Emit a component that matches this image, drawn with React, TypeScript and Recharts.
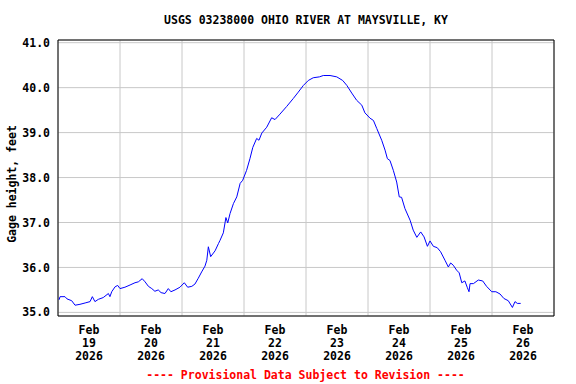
import {
  LineChart,
  Line,
  XAxis,
  YAxis,
  CartesianGrid,
  ReferenceArea,
} from 'recharts';

// Hours since Feb 19 00:00 and gage height (feet)
const hours = [
  0.4, 0.8, 2.7, 3.5, 5.3, 6.6, 8.5, 10.5, 12.4, 13.3, 14.3, 15.6, 17.5, 19.5, 20.1, 20.8,
  22.1, 23.1, 24.0, 25.9, 27.9, 29.8, 31.1, 32.6, 33.7, 35.0, 36.3, 37.5, 38.8, 39.9, 41.4,
  42.7, 43.7, 45.3, 47.2, 48.9, 50.2, 51.8, 53.0, 54.3, 55.6, 56.9, 57.6, 58.2, 59.1, 60.8,
  62.1, 62.7, 64.0, 65.0, 65.7, 66.6, 67.9, 69.2, 70.5, 71.5, 73.0, 74.3, 75.4, 76.9, 77.8,
  78.9, 80.8, 82.7, 84.0, 85.9, 88.5, 91.1, 93.0, 95.0, 96.9, 98.8, 101.2, 102.7, 105.3,
  107.9, 110.2, 111.8, 113.7, 115.6, 117.6, 118.8, 120.8, 122.1, 123.4, 125.3, 126.6, 127.5,
  128.5, 129.8, 131.1, 132.1, 133.0, 134.3, 136.3, 137.5, 138.9, 140.4, 141.7, 143.0, 144.0,
  145.3, 146.8, 148.1, 149.8, 151.1, 152.0, 153.0, 154.3, 155.3, 156.3, 157.5, 158.4, 159.1,
  159.5, 160.8, 162.7, 164.4, 165.9, 167.9, 169.5, 171.1, 172.6, 174.3, 175.9, 176.9, 177.8,
  179.1,
];

const gageHeight = [
  35.28, 35.35, 35.35, 35.3, 35.26, 35.16, 35.18, 35.21, 35.24, 35.35, 35.24, 35.29, 35.33,
  35.42, 35.35, 35.46, 35.57, 35.6, 35.53, 35.56, 35.61, 35.66, 35.68, 35.75, 35.68, 35.58,
  35.53, 35.47, 35.5, 35.44, 35.42, 35.53, 35.46, 35.5, 35.56, 35.66, 35.56, 35.58, 35.63,
  35.76, 35.9, 36.03, 36.16, 36.46, 36.24, 36.37, 36.53, 36.6, 36.77, 37.11, 36.99, 37.2,
  37.42, 37.57, 37.87, 37.94, 38.16, 38.42, 38.67, 38.87, 38.83, 38.99, 39.12, 39.33, 39.29,
  39.41, 39.58, 39.76, 39.9, 40.05, 40.16, 40.22, 40.24, 40.27, 40.27, 40.24, 40.16, 40.05,
  39.88, 39.72, 39.61, 39.44, 39.32, 39.27, 39.09, 38.83, 38.61, 38.42, 38.38, 38.16, 37.9,
  37.57, 37.56, 37.31, 37.05, 36.83, 36.67, 36.79, 36.68, 36.47, 36.59, 36.47, 36.44, 36.35,
  36.16, 36.01, 36.1, 36.05, 35.94, 35.88, 35.66, 35.7, 35.56, 35.46, 35.64, 35.64, 35.72,
  35.7, 35.58, 35.46, 35.46, 35.41, 35.31, 35.26, 35.11, 35.24, 35.2, 35.2,
];

const dayNumbers = ['19', '20', '21', '22', '23', '24', '25', '26'];
const labelHours = [12, 36, 60, 84, 108, 132, 156, 180];
const midnightHours = [0, 24, 48, 72, 96, 120, 144, 168, 192];
const yTicks = [35, 36, 37, 38, 39, 40, 41];

const rows = hours.map((h, i) => ({ h, ft: gageHeight[i] }));

const mono = '"DejaVu Sans Mono", "Liberation Mono", monospace';
const fontSize = 11.5;

const DayTick = (props: any) => {
  const { x, y, index } = props;
  return (
    <text
      x={x}
      y={y}
      textAnchor="middle"
      fill="#000"
      fontFamily={mono}
      fontSize={fontSize}
      fontWeight="bold"
    >
      <tspan x={x} y={y + 18}>Feb</tspan>
      <tspan x={x} y={y + 31}>{dayNumbers[index]}</tspan>
      <tspan x={x} y={y + 44}>2026</tspan>
    </text>
  );
};

export default function App() {
  const textStyle = {
    position: 'absolute' as const,
    fontFamily: mono,
    fontSize,
    fontWeight: 'bold' as const,
    whiteSpace: 'nowrap' as const,
    lineHeight: '14px',
  };

  return (
    <div
      style={{
        position: 'absolute',
        left: 0,
        top: 0,
        width: 576,
        height: 384,
        background: '#fff',
      }}
    >
      <LineChart
        width={576}
        height={384}
        data={rows}
        margin={{ top: 40, right: 22, bottom: 0, left: 0 }}
      >
        <CartesianGrid xAxisId="grid" stroke="#c8c8c8" strokeWidth={1} />
        <XAxis
          xAxisId="grid"
          dataKey="h"
          type="number"
          domain={[0, 192]}
          ticks={midnightHours}
          allowDataOverflow
          hide
        />
        <XAxis
          dataKey="h"
          type="number"
          domain={[0, 192]}
          ticks={labelHours}
          allowDataOverflow
          axisLine={false}
          tickLine={false}
          tickSize={0}
          tickMargin={0}
          interval={0}
          tick={<DayTick />}
          height={68}
        />
        <YAxis
          type="number"
          domain={[34.92, 41.06]}
          ticks={yTicks}
          allowDataOverflow
          axisLine={false}
          tickLine={false}
          tickSize={0}
          tickMargin={8}
          width={58}
          interval={0}
          tickFormatter={(v: number) => v.toFixed(1)}
          tick={{ fill: '#000', fontFamily: mono, fontSize, fontWeight: 'bold' }}
        />
        <Line
          dataKey="ft"
          stroke="#0000ff"
          strokeWidth={1}
          dot={false}
          type="linear"
          isAnimationActive={false}
        />
        <ReferenceArea
          x1={0}
          x2={192}
          y1={34.92}
          y2={41.06}
          fill="none"
          stroke="#000"
          strokeWidth={1}
          ifOverflow="visible"
        />
      </LineChart>

      <div style={{ ...textStyle, left: 0, width: 612, top: 13, textAlign: 'center' }}>
        USGS 03238000 OHIO RIVER AT MAYSVILLE, KY
      </div>
      <div
        style={{
          ...textStyle,
          left: 12,
          top: 184,
          transform: 'translate(-50%, -50%) rotate(-90deg)',
        }}
      >
        Gage height, feet
      </div>
      <div
        style={{ ...textStyle, left: 0, width: 611, top: 368, textAlign: 'center', color: '#ff0000' }}
      >
        ---- Provisional Data Subject to Revision ----
      </div>
    </div>
  );
}
